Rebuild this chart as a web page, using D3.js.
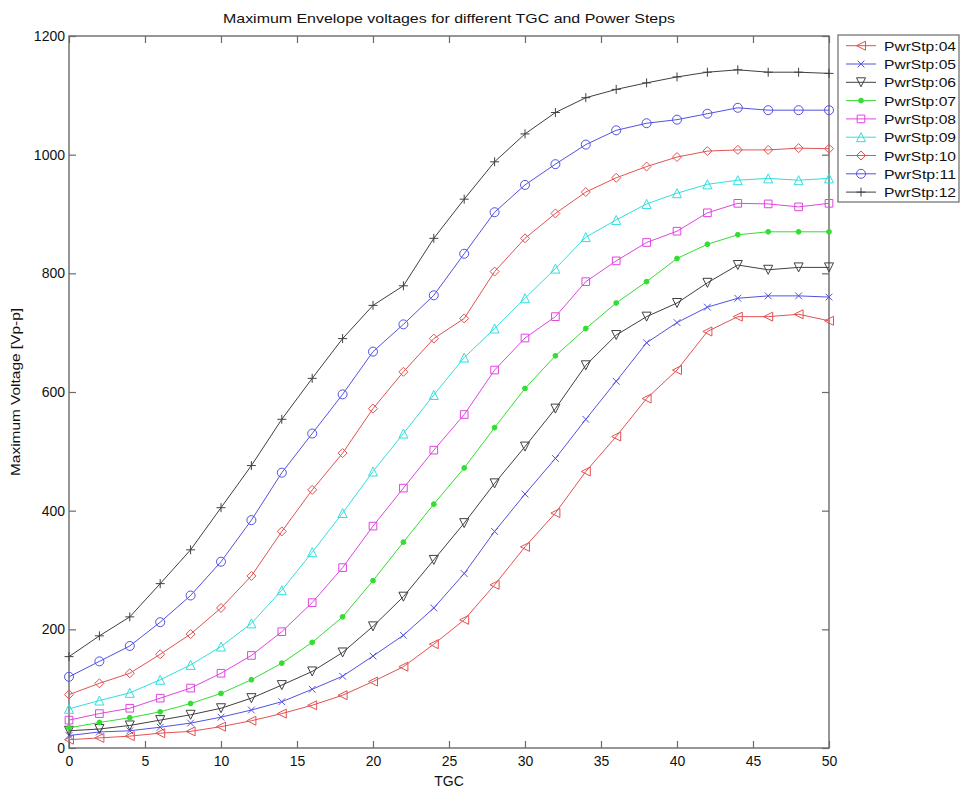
<!DOCTYPE html>
<html>
<head>
<meta charset="utf-8">
<script src="https://d3js.org/d3.v7.min.js"></script>
<style>
  html, body { margin: 0; padding: 0; background: #fff; }
  svg { display: block; }
  text { font-family: "Liberation Sans", Arial, Helvetica, sans-serif; fill: #111; }
</style>
</head>
<body>
<svg id="chart" width="960" height="791"></svg>
<script>
// TGC settings (x) shared by every power step
const tgc = [0,2,4,6,8,10,12,14,16,18,20,22,24,26,28,30,32,34,36,38,40,42,44,46,48,50];

// Maximum envelope voltage [Vp-p] per power step
const pwr04 = [14,17,20,25,28,36,46,58,72,89,112,137,175,216,275,339,396,466,525,589,637,702,727,727,731,720];
const pwr05 = [21,27,29,35,42,52,64,78,99,121,155,190,236,294,365,428,488,554,618,683,717,743,758,762,762,760];
const pwr06 = [29,32,38,47,56,67,84,106,129,161,205,255,317,379,446,508,572,645,696,727,750,784,814,806,810,810];
const pwr07 = [34,43,51,61,75,92,115,143,178,221,282,347,411,472,540,606,661,707,750,786,825,849,865,870,870,870];
const pwr08 = [47,58,67,84,101,126,156,196,245,304,374,438,502,562,637,691,727,786,821,852,871,902,918,917,912,918];
const pwr09 = [66,80,93,115,140,171,210,266,330,396,466,530,595,658,707,758,808,861,890,917,935,950,957,960,957,960];
const pwr10 = [90,109,126,158,192,236,290,365,435,497,572,634,690,724,803,859,901,937,961,980,996,1006,1008,1008,1011,1010];
const pwr11 = [120,146,172,212,257,314,384,464,530,596,668,714,763,833,903,949,984,1017,1041,1053,1059,1069,1079,1075,1075,1075];
const pwr12 = [154,189,221,277,334,405,476,554,623,690,746,779,859,925,988,1035,1071,1096,1110,1121,1131,1139,1143,1139,1139,1137];

const seriesNames = ["PwrStp:04","PwrStp:05","PwrStp:06","PwrStp:07","PwrStp:08","PwrStp:09","PwrStp:10","PwrStp:11","PwrStp:12"];
const seriesValues = [pwr04, pwr05, pwr06, pwr07, pwr08, pwr09, pwr10, pwr11, pwr12];

const xTicks = [0,5,10,15,20,25,30,35,40,45,50];
const yTicks = [0,200,400,600,800,1000,1200];

// Line colours and marker kinds, one per series
const colors  = ["#e25252","#5252e2","#404040","#33dd33","#e045e0","#33dede","#e25252","#5252e2","#404040"];
const markers = ["triLeft","cross","triDown","dot","square","triUp","diamond","circle","plus"];

const svg = d3.select("#chart");
const plotLeft = 69, plotRight = 829, plotTop = 36, plotBottom = 748;

const x = d3.scaleLinear().domain([0, 50]).range([plotLeft, plotRight]);
const y = d3.scaleLinear().domain([0, 1200]).range([plotBottom, plotTop]);

// Marker path generators (centred on 0,0)
function markerPath(kind, r) {
  switch (kind) {
    case "triLeft": return `M${-r},0L${r},${-r}L${r},${r}Z`;
    case "triDown": return `M${-r},${-r}L${r},${-r}L0,${r}Z`;
    case "triUp":   return `M${-r},${r}L${r},${r}L0,${-r}Z`;
    case "cross":   { const c = r * 0.75; return `M${-c},${-c}L${c},${c}M${-c},${c}L${c},${-c}`; }
    case "plus":    return `M${-r},0L${r},0M0,${-r}L0,${r}`;
    case "square":  { const s = r * 0.85; return `M${-s},${-s}H${s}V${s}H${-s}Z`; }
    case "diamond": return `M0,${-r}L${r},0L0,${r}L${-r},0Z`;
    case "circle":  return `M${r},0A${r},${r},0,1,1,${-r},0A${r},${r},0,1,1,${r},0`;
    case "dot":     { const d = 2.4; return `M${d},0A${d},${d},0,1,1,${-d},0A${d},${d},0,1,1,${d},0`; }
  }
}

function drawMarker(g, kind, color) {
  g.append("path")
    .attr("d", markerPath(kind, 4.5))
    .attr("fill", kind === "dot" ? color : "none")
    .attr("stroke", color)
    .attr("stroke-width", 1);
}

// Axes frame
const axisColor = "#6a6a6a";
svg.append("rect")
  .attr("x", plotLeft).attr("y", plotTop)
  .attr("width", plotRight - plotLeft).attr("height", plotBottom - plotTop)
  .attr("fill", "none").attr("stroke", axisColor).attr("stroke-width", 1.4);

// Bottom axis and top mirror ticks
const xAxis = d3.axisBottom(x).tickValues(xTicks).tickSize(-7).tickPadding(8).tickFormat(d3.format("d"));
const gx = svg.append("g").attr("transform", `translate(0,${plotBottom})`).call(xAxis);
const gxTop = svg.append("g").attr("transform", `translate(0,${plotTop})`)
  .call(d3.axisTop(x).tickValues(xTicks).tickSize(-7).tickFormat(""));

// Left axis and right mirror ticks
const yAxis = d3.axisLeft(y).tickValues(yTicks).tickSize(-7).tickPadding(4).tickFormat(d3.format("d"));
const gy = svg.append("g").attr("transform", `translate(${plotLeft},0)`).call(yAxis);
const gyRight = svg.append("g").attr("transform", `translate(${plotRight},0)`)
  .call(d3.axisRight(y).tickValues(yTicks).tickSize(-7).tickFormat(""));

[gx, gxTop, gy, gyRight].forEach(g => {
  g.select(".domain").remove();
  g.selectAll(".tick line").attr("stroke", axisColor).attr("stroke-width", 1.2);
  g.selectAll(".tick text").attr("font-size", 14).attr("fill", "#111")
    .attr("font-family", "'Liberation Sans', Arial, sans-serif");
});

// Series lines and markers
const line = d3.line().x((d, i) => x(tgc[i])).y(d => y(d));
const plot = svg.append("g");
seriesValues.forEach((vals, si) => {
  plot.append("path")
    .attr("d", line(vals))
    .attr("fill", "none")
    .attr("stroke", colors[si])
    .attr("stroke-width", 1);
  vals.forEach((v, i) => {
    const mg = plot.append("g").attr("transform", `translate(${x(tgc[i])},${y(v)})`);
    drawMarker(mg, markers[si], colors[si]);
  });
});

// Title and axis labels (wide Helvetica-like lettering)
svg.append("text")
  .attr("x", (plotLeft + plotRight) / 2).attr("y", 23)
  .attr("text-anchor", "middle").attr("font-size", 13.5)
  .attr("textLength", 452).attr("lengthAdjust", "spacingAndGlyphs")
  .text("Maximum Envelope voltages for different TGC and Power Steps");

svg.append("text")
  .attr("x", (plotLeft + plotRight) / 2).attr("y", 786)
  .attr("text-anchor", "middle").attr("font-size", 14)
  .text("TGC");

svg.append("text")
  .attr("transform", `translate(20,${(plotTop + plotBottom) / 2}) rotate(-90)`)
  .attr("text-anchor", "middle").attr("font-size", 13)
  .attr("textLength", 168).attr("lengthAdjust", "spacingAndGlyphs")
  .text("Maximum Voltage [Vp-p]");

// Legend
const lgX = 838, lgY = 35, lgW = 121, lgH = 167, rowH = 18.3;
const legend = svg.append("g");
legend.append("rect")
  .attr("x", lgX).attr("y", lgY).attr("width", lgW).attr("height", lgH)
  .attr("fill", "#fff").attr("stroke", axisColor).attr("stroke-width", 1.2);
seriesNames.forEach((name, si) => {
  const cy = lgY + 10.7 + si * rowH;
  legend.append("line")
    .attr("x1", lgX + 8).attr("x2", lgX + 38).attr("y1", cy).attr("y2", cy)
    .attr("stroke", colors[si]).attr("stroke-width", 1);
  const mg = legend.append("g").attr("transform", `translate(${lgX + 23},${cy})`);
  drawMarker(mg, markers[si], colors[si]);
  legend.append("text")
    .attr("x", lgX + 46).attr("y", cy + 5)
    .attr("font-size", 13)
    .attr("textLength", 72).attr("lengthAdjust", "spacingAndGlyphs")
    .text(name);
});
</script>
</body>
</html>
